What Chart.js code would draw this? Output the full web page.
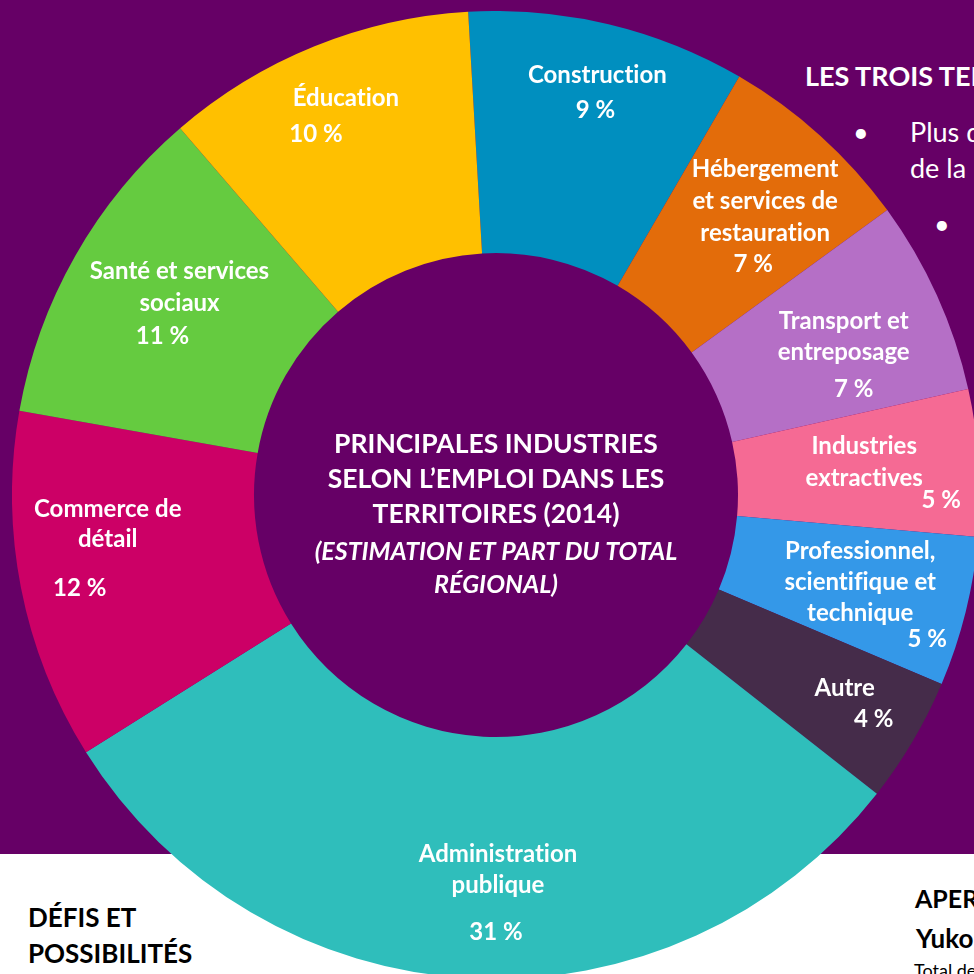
<!DOCTYPE html>
<html lang="fr">
<head>
<meta charset="utf-8">
<script src="https://cdn.jsdelivr.net/npm/chart.js@4.4.1/dist/chart.umd.min.js"></script>
<style>
  html, body { margin: 0; padding: 0; width: 974px; height: 974px; overflow: hidden; background: #ffffff; font-family: Lato, "Open Sans", sans-serif; font-variant-ligatures: none; }
  #panel { position: absolute; left: 0; top: 0; width: 974px; height: 854px; background: #660066; }
  #chartBox { position: absolute; left: 12px; top: 11px; width: 968px; height: 968px; }
  .txt { position: absolute; white-space: nowrap; line-height: 1; }
  .light { color: #ffffff; }
  .dark { color: #000000; }
</style>
</head>
<body>
<div id="panel"></div>

<!-- texte autour du graphique (coupé par le bord) -->
<div class="txt light" style="left:805px; top:62px; font-size:27px; font-weight:700;">LES TROIS TERRITOIRES</div>
<div class="txt light" style="left:853px; top:118px; font-size:27px;">•</div>
<div class="txt light" style="left:910px; top:118px; font-size:27px;">Plus de</div>
<div class="txt light" style="left:910px; top:154px; font-size:27px;">de la population</div>
<div class="txt light" style="left:934px; top:210px; font-size:27px;">•</div>
<div class="txt dark" style="left:28px; top:904px; font-size:26px; font-weight:700;">DÉFIS ET</div>
<div class="txt dark" style="left:28px; top:940px; font-size:26px; font-weight:700;">POSSIBILITÉS</div>
<div class="txt dark" style="left:915px; top:886px; font-size:25px; font-weight:700;">APERÇU</div>
<div class="txt dark" style="left:916px; top:925px; font-size:26px; font-weight:700;">Yukon</div>
<div class="txt dark" style="left:914px; top:961px; font-size:18px;">Total de</div>

<div id="chartBox"><canvas id="industryChart" width="968" height="968"></canvas></div>

<script>
// Principales industries selon l'emploi dans les territoires (2014)
const categories = [
    ['Construction'],
    ['Hébergement', 'et services de', 'restauration'],
    ['Transport et', 'entreposage'],
    ['Industries', 'extractives'],
    ['Professionnel,', 'scientifique et', 'technique'],
    ['Autre'],
    ['Administration', 'publique'],
    ['Commerce de', 'détail'],
    ['Santé et services', 'sociaux'],
    ['Éducation']
];
const shares = [9.3, 6.6, 6.5, 4.9, 5.0, 4.2, 30.5, 11.7, 10.9, 10.4];
// étiquettes affichées
const shareLabels = ['9 %', '7 %', '7 %', '5 %', '5 %', '4 %', '31 %', '12 %', '11 %', '10 %'];

const centerTitle = [
    'PRINCIPALES INDUSTRIES',
    'SELON L\u2019EMPLOI DANS LES',
    'TERRITOIRES (2014)',
    '(ESTIMATION ET PART DU TOTAL',
    'RÉGIONAL)'
];

const sliceColors = ['#008fbf', '#e36c0a', '#b56fc6', '#f56a94', '#3498e8',
                     '#452c4a', '#2fbebb', '#cc0066', '#65cb40', '#ffc000'];

// décalages des étiquettes par rapport au milieu de chaque tranche
const labelLayout = [
    { dx: 17, dy: -59, lh: 35, gap: 35, pdx: -2 },
    { dx: 26, dy: -48, lh: 32, gap: 31, pdx: -12 },
    { dx: 17, dy: -16, lh: 31, gap: 37, pdx: 10 },
    { dx: 6, dy: -17, lh: 32, gap: 22, pdx: 77 },
    { dx: 12, dy: -24, lh: 31, gap: 26, pdx: 67 },
    { dx: 36, dy: 17, lh: 31, gap: 31, pdx: 29 },
    { dx: 21, dy: 4, lh: 31, gap: 47, pdx: -2 },
    { dx: -32, dy: -48, lh: 30, gap: 49, pdx: -28 },
    { dx: -1, dy: -36, lh: 32, gap: 33, pdx: -17 },
    { dx: -14, dy: -52, lh: 35, gap: 36, pdx: -30 }
];
const titleOffsets = [-42, -7, 28, 65, 98];

const sliceLabels = {
    id: 'sliceLabels',
    afterDatasetsDraw(chart) {
        const ctx = chart.ctx;
        const meta = chart.getDatasetMeta(0);
        ctx.save();
        ctx.fillStyle = '#ffffff';
        ctx.textAlign = 'center';
        ctx.textBaseline = 'alphabetic';
        ctx.textRendering = 'optimizeSpeed';
        ctx.font = 'bold 24px Lato';

        meta.data.forEach(function(arc, i) {
            const p = arc.tooltipPosition();
            const lay = labelLayout[i];
            const x = p.x + lay.dx;
            let y = p.y + lay.dy;
            categories[i].forEach(function(line, k) {
                if (k > 0) y += lay.lh;
                ctx.fillText(line, x, y);
            });
            ctx.fillText(shareLabels[i], x + lay.pdx, y + lay.gap);
        });

        // titre au centre du trou
        const c = meta.data[0];
        centerTitle.forEach(function(line, k) {
            ctx.font = k >= 3 ? 'italic bold 25px Lato' : 'bold 26.5px Lato';
            ctx.fillText(line, c.x, c.y + titleOffsets[k]);
        });
        ctx.restore();
    }
};

function createIndustryChart() {
    const ctx = document.getElementById('industryChart').getContext('2d');

    new Chart(ctx, {
        type: 'doughnut',
        data: {
            labels: categories.map(function(c) { return c.join(' '); }),
            datasets: [{
                data: shares,
                backgroundColor: sliceColors,
                borderWidth: 0,
                hoverOffset: 0
            }]
        },
        options: {
            responsive: false,
            animation: false,
            rotation: -3.3,
            radius: 484,
            cutout: 242,
            layout: { padding: 0 },
            plugins: {
                legend: { display: false },
                tooltip: { enabled: false }
            }
        },
        plugins: [sliceLabels]
    });
}

document.addEventListener('DOMContentLoaded', function() {
    createIndustryChart();
});
</script>
</body>
</html>
